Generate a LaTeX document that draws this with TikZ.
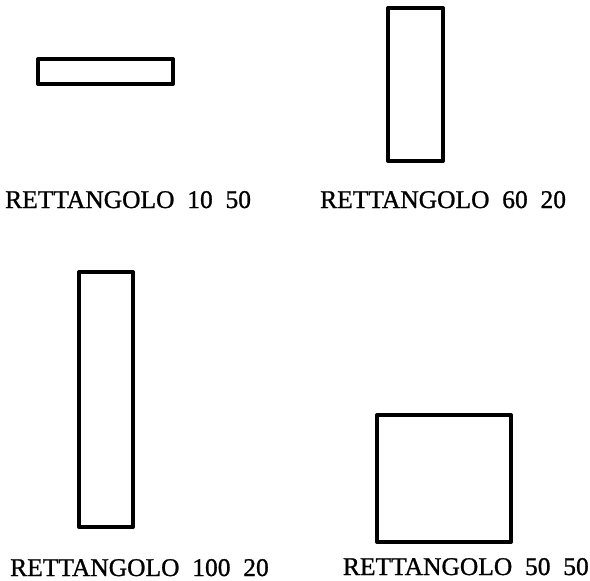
\documentclass[tikz,border=0pt]{standalone}
\usepackage{fontspec}
\setmainfont{Liberation Serif}[WordSpace=2,FakeBold=1]
\begin{document}
\begin{tikzpicture}[x=1pt,y=-1pt,
  rectbox/.style={draw=black,line width=4pt,line join=round},
  lbl/.style={inner sep=0pt,font=\fontsize{25.5}{30}\selectfont}]
\useasboundingbox (0,0) rectangle (590,581);
\draw[rectbox] (38,59) rectangle (173,84);
\draw[rectbox] (388,8) rectangle (443,161);
\draw[rectbox] (79,272) rectangle (133,527);
\draw[rectbox] (377,415) rectangle (511,542);
\node[lbl,anchor=base west] (t1) at (5,208) {RETTANGOLO 10 50};
\node[lbl,anchor=base west] (t2) at (320,208) {RETTANGOLO 60 20};
\node[lbl,anchor=base west] (t3) at (10,576) {RETTANGOLO 100 20};
\node[lbl,anchor=base east] (t4) at (589,575) {RETTANGOLO 50 50};
\end{tikzpicture}
\end{document}
